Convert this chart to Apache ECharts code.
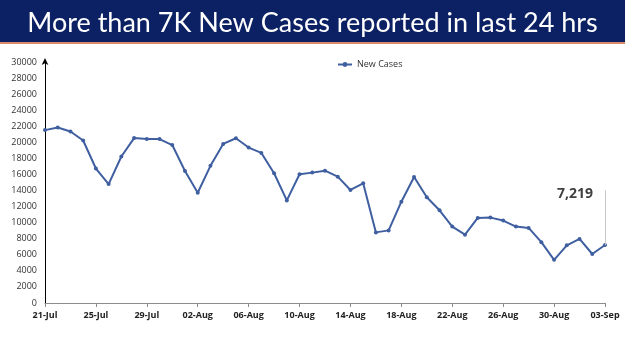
<!DOCTYPE html>
<html>
<head>
<meta charset="utf-8">
<script src="https://cdn.jsdelivr.net/npm/echarts@6/dist/echarts.min.js"></script>
<style>
html,body{margin:0;padding:0;background:#fff;}
#c{width:625px;height:351px;}
</style>
</head>
<body>
<div id="c"></div>
<script>
var titleText = 'More than 7K New Cases reported in last 24 hrs';
var seriesName = 'New Cases';
var dates = ['21-Jul','22-Jul','23-Jul','24-Jul','25-Jul','26-Jul','27-Jul','28-Jul','29-Jul','30-Jul','31-Jul',
  '01-Aug','02-Aug','03-Aug','04-Aug','05-Aug','06-Aug','07-Aug','08-Aug','09-Aug','10-Aug','11-Aug','12-Aug',
  '13-Aug','14-Aug','15-Aug','16-Aug','17-Aug','18-Aug','19-Aug','20-Aug','21-Aug','22-Aug','23-Aug','24-Aug',
  '25-Aug','26-Aug','27-Aug','28-Aug','29-Aug','30-Aug','31-Aug','01-Sep','02-Sep','03-Sep'];
var newCases = [21520,21840,21350,20230,16740,14800,18240,20530,20410,20410,19660,
  16430,13730,17070,19800,20510,19350,18680,16150,12770,16020,16230,16470,
  15730,14070,14900,8790,9040,12610,15690,13160,11540,9510,8510,10590,
  10630,10260,9510,9350,7570,5370,7180,7970,6100,7219];
var yTicks = {min: 0, max: 30000, interval: 2000};

var chart = echarts.init(document.getElementById('c'));
var lastIdx = newCases.length - 1;
var lastVal = newCases[lastIdx];
var data = newCases.map(function (v, i) {
  if (i === lastIdx) {
    return {
      value: v,
      label: {
        show: true,
        formatter: function (p) { return p.value.toLocaleString('en-US'); },
        fontSize: 14, fontWeight: 'bold', color: '#404040',
        fontFamily: 'Open Sans'
      }
    };
  }
  return v;
});

chart.setOption({
  animation: false,
  backgroundColor: '#ffffff',
  graphic: [
    {type: 'rect', left: 0, top: 0, shape: {width: 625, height: 42}, style: {fill: '#0b2163'}, z: 0},
    {type: 'rect', left: 0, top: 42, shape: {width: 625, height: 2}, style: {fill: '#d98a6a'}, z: 0}
  ],
  title: {
    text: titleText,
    left: 'center',
    top: 5,
    textStyle: {color: '#ffffff', fontSize: 27, fontWeight: 'normal', fontFamily: 'Lato'},
    z: 10
  },
  legend: {
    data: [seriesName],
    left: 332,
    top: 55,
    itemWidth: 14,
    itemHeight: 6,
    itemGap: 2,
    textStyle: {fontSize: 9, color: '#333', fontFamily: 'Open Sans'}
  },
  grid: {left: 45, right: 20, top: 62, bottom: 48, containLabel: false},
  xAxis: {
    type: 'category',
    data: dates,
    boundaryGap: false,
    axisLine: {lineStyle: {color: '#8c8c8c', width: 1}},
    axisTick: {show: true, interval: 3, length: 4, lineStyle: {color: '#8c8c8c'}},
    axisLabel: {interval: 3, fontSize: 9, fontWeight: 'bold', color: '#222', margin: 8, fontFamily: 'Open Sans'}
  },
  yAxis: {
    type: 'value',
    min: yTicks.min, max: yTicks.max, interval: yTicks.interval,
    axisLine: {show: true, symbol: ['none', 'arrow'], symbolSize: [5, 7], symbolOffset: [0, 4], lineStyle: {color: '#000', width: 1}},
    axisTick: {show: false},
    splitLine: {show: false},
    axisLabel: {fontSize: 9, color: '#333', margin: 8, fontFamily: 'Open Sans',
      formatter: function (v) { return String(v); }}
  },
  series: [{
    name: seriesName,
    type: 'line',
    data: data,
    symbol: 'circle',
    symbolSize: 4,
    lineStyle: {color: '#3f5fa0', width: 2},
    itemStyle: {color: '#3f5fa0'},
    labelLayout: {dx: -30, dy: -37},
    markLine: {
      silent: true,
      symbol: 'none',
      label: {show: false},
      lineStyle: {color: '#c8c8c8', width: 1, type: 'solid'},
      data: [[{coord: [dates[lastIdx], lastVal]}, {coord: [dates[lastIdx], lastVal + 6800]}]]
    }
  }]
});
</script>
</body>
</html>
